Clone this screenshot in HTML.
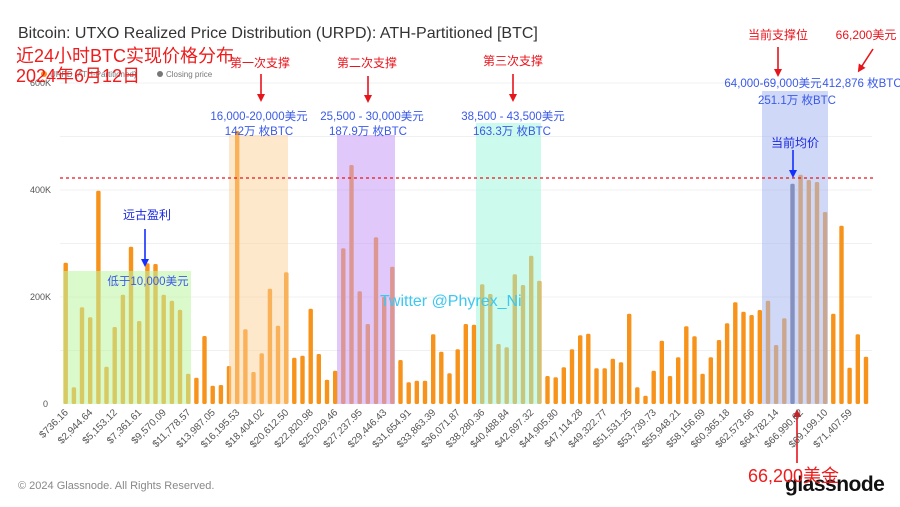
<!DOCTYPE html>
<html><head><meta charset="utf-8"><style>
html,body{margin:0;padding:0;background:#fff;}
svg{display:block;font-family:"Liberation Sans","Noto Sans CJK SC",sans-serif;}
</style></head><body>
<svg id="s" width="900" height="507" viewBox="0 0 900 507" xmlns="http://www.w3.org/2000/svg">
<defs>
<marker id="ar" markerWidth="8" markerHeight="8" refX="4" refY="4" orient="auto" markerUnits="userSpaceOnUse"><path d="M0,0 L8,4 L0,8 z" fill="#e8141c"/></marker>
<marker id="ab" markerWidth="8" markerHeight="8" refX="4" refY="4" orient="auto" markerUnits="userSpaceOnUse"><path d="M0,0 L8,4 L0,8 z" fill="#1430ff"/></marker>
</defs>
<rect width="900" height="507" fill="#fff"/>
<g stroke="#f0f0f0" stroke-width="1">
<line x1="60" x2="872" y1="83" y2="83"/><line x1="60" x2="872" y1="136.5" y2="136.5"/>
<line x1="60" x2="872" y1="190" y2="190"/><line x1="60" x2="872" y1="243.5" y2="243.5"/>
<line x1="60" x2="872" y1="297" y2="297"/><line x1="60" x2="872" y1="350.5" y2="350.5"/>
</g>
<g font-size="9" fill="#555">
<text x="30" y="86">600K</text><text x="30" y="193">400K</text><text x="30" y="300">200K</text><text x="43" y="407">0</text>
</g>
<g id="bars"></g>
<rect x="63" y="271" width="128" height="133" fill="#bdf5a0" fill-opacity="0.55"/>
<rect x="229" y="135" width="59" height="269" fill="#fbd29a" fill-opacity="0.5"/>
<rect x="337" y="135" width="58" height="269" fill="#c79af7" fill-opacity="0.55"/>
<rect x="476" y="123" width="65" height="281" fill="#9af7de" fill-opacity="0.5"/>
<rect x="762" y="91" width="66" height="313" fill="#a8b8ef" fill-opacity="0.55"/>
<line x1="60" x2="875" y1="178" y2="178" stroke="#e8141c" stroke-width="1.3" stroke-dasharray="3,3"/>
<text x="18" y="38" font-size="16" fill="#333">Bitcoin: UTXO Realized Price Distribution (URPD): ATH-Partitioned [BTC]</text>
<circle cx="44" cy="74" r="3" fill="#f7931a"/>
<text x="50" y="77" font-size="8" fill="#777">URPD (ATH-Partitioned)</text>
<circle cx="160" cy="74" r="3" fill="#777"/>
<text x="166" y="77" font-size="8" fill="#777">Closing price</text>
<g fill="#ee1c1c" font-size="18">
<text x="16" y="62">近24小时BTC实现价格分布</text>
<text x="16" y="82">2024年6月12日</text>
</g>
<g fill="#e8141c" font-size="12" text-anchor="middle">
<text x="260" y="67">第一次支撑</text><text x="367" y="67">第二次支撑</text>
<text x="513" y="65">第三次支撑</text><text x="778" y="39">当前支撑位</text>
<text x="866" y="39">66,200美元</text>
</g>
<g stroke="#e8141c" stroke-width="1.6" marker-end="url(#ar)">
<line x1="261" y1="74" x2="261" y2="98"/><line x1="368" y1="76" x2="368" y2="99"/>
<line x1="513" y1="74" x2="513" y2="98"/><line x1="778" y1="47" x2="778" y2="73"/>
<line x1="873" y1="49" x2="860" y2="69"/><line x1="797" y1="463" x2="797" y2="413"/>
</g>
<g fill="#3a5ae8" font-size="11.5" text-anchor="middle">
<text x="259" y="120">16,000-20,000美元</text><text x="259" y="135">142万 枚BTC</text>
<text x="372" y="120">25,500 - 30,000美元</text><text x="368" y="135">187.9万 枚BTC</text>
<text x="513" y="120">38,500 - 43,500美元</text><text x="512" y="135">163.3万 枚BTC</text>
<text x="773" y="87">64,000-69,000美元</text><text x="797" y="104">251.1万 枚BTC</text>
<text x="862" y="87">412,876 枚BTC</text>
<text x="148" y="285">低于10,000美元</text>
</g>
<g fill="#1a28e0" font-size="12" text-anchor="middle">
<text x="795" y="147">当前均价</text><text x="147" y="219">远古盈利</text>
</g>
<g stroke="#1430ff" stroke-width="1.6" marker-end="url(#ab)">
<line x1="793" y1="150" x2="793" y2="174"/><line x1="145" y1="229" x2="145" y2="263"/>
</g>
<text x="380" y="306" font-size="16" fill="#3cc8f0">Twitter @Phyrex_Ni</text>
<text x="18" y="489" font-size="11" fill="#888">© 2024 Glassnode. All Rights Reserved.</text>
<text x="785" y="491" font-size="21" font-weight="bold" fill="#111" letter-spacing="-0.5">glassnode</text>
<text x="748" y="482" font-size="18" fill="#ee1c1c">66,200美金</text>
<g font-size="10" fill="#555" text-anchor="end">
<text transform="translate(68.7,413) rotate(-45)">$736.16</text>
<text transform="translate(93.2,413) rotate(-45)">$2,944.64</text>
<text transform="translate(117.7,413) rotate(-45)">$5,153.12</text>
<text transform="translate(142.2,413) rotate(-45)">$7,361.61</text>
<text transform="translate(166.7,413) rotate(-45)">$9,570.09</text>
<text transform="translate(191.2,413) rotate(-45)">$11,778.57</text>
<text transform="translate(215.7,413) rotate(-45)">$13,987.05</text>
<text transform="translate(240.2,413) rotate(-45)">$16,195.53</text>
<text transform="translate(264.7,413) rotate(-45)">$18,404.02</text>
<text transform="translate(289.2,413) rotate(-45)">$20,612.50</text>
<text transform="translate(313.7,413) rotate(-45)">$22,820.98</text>
<text transform="translate(338.2,413) rotate(-45)">$25,029.46</text>
<text transform="translate(362.7,413) rotate(-45)">$27,237.95</text>
<text transform="translate(387.2,413) rotate(-45)">$29,446.43</text>
<text transform="translate(411.7,413) rotate(-45)">$31,654.91</text>
<text transform="translate(436.2,413) rotate(-45)">$33,863.39</text>
<text transform="translate(460.7,413) rotate(-45)">$36,071.87</text>
<text transform="translate(485.2,413) rotate(-45)">$38,280.36</text>
<text transform="translate(509.7,413) rotate(-45)">$40,488.84</text>
<text transform="translate(534.2,413) rotate(-45)">$42,697.32</text>
<text transform="translate(558.7,413) rotate(-45)">$44,905.80</text>
<text transform="translate(583.2,413) rotate(-45)">$47,114.28</text>
<text transform="translate(607.7,413) rotate(-45)">$49,322.77</text>
<text transform="translate(632.2,413) rotate(-45)">$51,531.25</text>
<text transform="translate(656.7,413) rotate(-45)">$53,739.73</text>
<text transform="translate(681.2,413) rotate(-45)">$55,948.21</text>
<text transform="translate(705.7,413) rotate(-45)">$58,156.69</text>
<text transform="translate(730.2,413) rotate(-45)">$60,365.18</text>
<text transform="translate(754.7,413) rotate(-45)">$62,573.66</text>
<text transform="translate(779.2,413) rotate(-45)">$64,782.14</text>
<text transform="translate(803.7,413) rotate(-45)">$66,990.62</text>
<text transform="translate(828.2,413) rotate(-45)">$69,199.10</text>
<text transform="translate(852.7,413) rotate(-45)">$71,407.59</text>
</g>
</svg>
<script>
var z=[338,712,472,502,122,650,531,434,290,513,340,342,434,452,479,671,683,558,707,705,648,-57,538,666,610,416,527,367,623,617,476,612,689,662,295,45,424,522,262,440,350,630,697,692,692,553,605,670,598,522,524,403,432,582,592,373,405,317,392,678,682,652,598,556,551,655,655,626,637,491,712,737,662,572,678,622,529,559,671,622,570,520,457,485,495,480,452,585,505,101,74,90,96,186,491,227,653,553,620];
var g=document.getElementById('bars'),h='';
for(var i=0;i<z.length;i++){var x=65.7+i*8.166,t=404-(762-z[i])/3;
h+='<rect x="'+(x-2.2).toFixed(1)+'" y="'+t.toFixed(1)+'" width="4.4" height="'+(404-t).toFixed(1)+'" rx="1.5" fill="'+(i==89?'#5a6080':'#f7931a')+'"/>';}
g.innerHTML=h;
</script>
</body></html>
